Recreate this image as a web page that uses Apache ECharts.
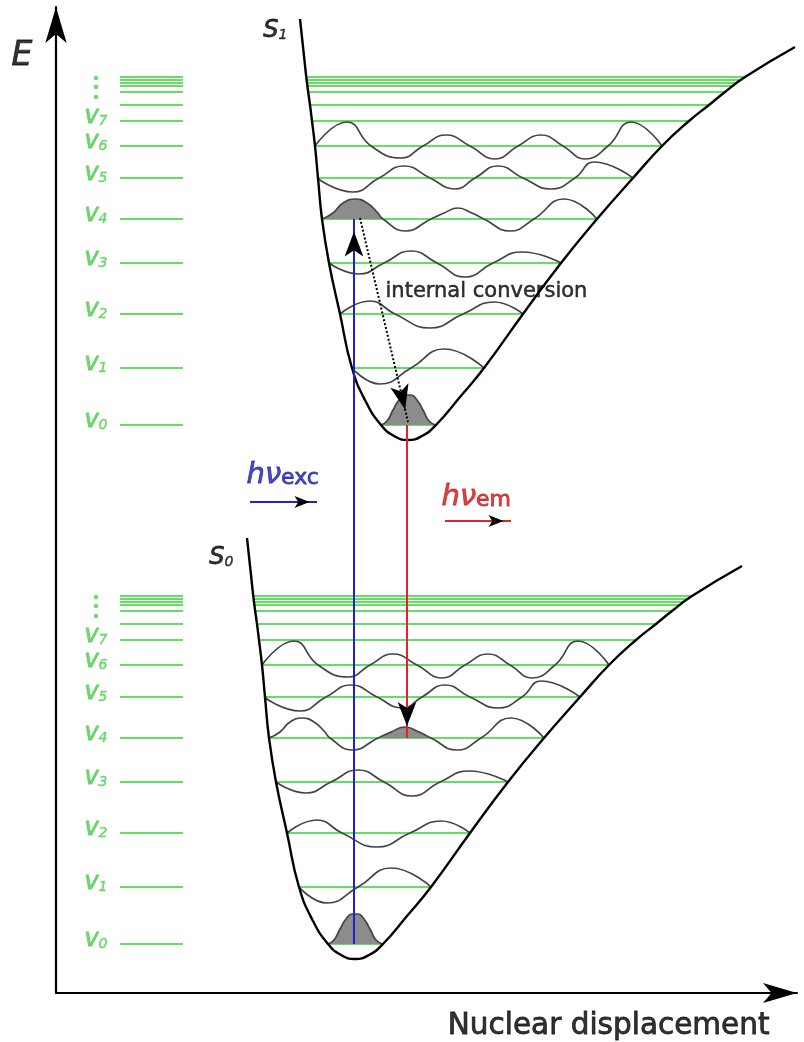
<!DOCTYPE html>
<html>
<head>
<meta charset="utf-8">
<title>Franck–Condon diagram</title>
<script src="https://cdn.jsdelivr.net/npm/echarts@6.0.0/dist/echarts.min.js"></script>
<style>
  html, body { margin: 0; padding: 0; background: #ffffff; }
  #chart { width: 804px; height: 1042px; }
</style>
</head>
<body>
<div id="chart"></div>
<script>
// ---------- Ground-state well S0: q = nuclear displacement, E = energy ----------
// vibrational levels v0..v7, then the levels converging towards dissociation
const levelEnergy = [49, 106, 160, 211, 255, 296, 328, 353, 369, 382, 388, 391, 394, 397];
// classical turning points of each level (where the level meets the curve)
const levelLeft  = [272, 243, 231, 220, 213, 209, 206, 203, 201, 199, 198.5, 198, 198, 197.5];
const levelRight = [327, 375, 414, 452, 488, 524, 553, 580, 600, 616, 624, 628, 632, 636];
const labelledLevels = ['0', '1', '2', '3', '4', '5', '6', '7'];
const ladderDotsEnergy = [396, 387, 377];
const ladderRange = [64, 127];

// potential energy curve
const wellCurve = [
  [191, 455], [195, 418], [198, 391], [201, 369], [203, 353], [206, 328], [209, 296],
  [213, 255], [220, 211], [231, 160], [243, 106], [257, 72], [272, 49], [285, 38],
  [299, 34], [313, 38], [327, 49], [351, 77], [375, 106], [414, 160], [452, 211],
  [488, 255], [524, 296], [553, 328], [580, 353], [600, 369], [616, 382], [636, 397],
  [686, 427]
];

// vibrational wavefunctions, drawn on top of their own level
const psi0 = [[272, 49], [278, 53], [284, 64], [290, 74], [296, 79], [302, 79], [308, 74], [314, 64], [320, 53], [327, 49]];
const psi1 = [[243, 106], [271, 90], [302, 106], [335, 125], [375, 106]];
const psi2 = [[231, 160], [261, 173], [286, 160], [321, 146], [354, 160], [385, 172], [414, 160]];
const psi3 = [[220, 211], [250, 200], [275, 211], [302, 223], [328, 211], [356, 197], [384, 211], [413, 222], [452, 211]];
const psi4 = [[213, 255], [224, 261], [234, 271], [246, 275], [258, 271], [268, 262], [274, 255], [296, 243],
              [322, 255], [335, 261], [349, 266], [363, 261], [375, 255], [401, 243], [425, 255], [455, 275], [488, 255]];
const psi5 = [[208, 296], [244, 282], [270, 296], [295, 308], [321, 296], [346, 285], [366, 296], [389, 308],
              [414, 296], [442, 285], [466, 296], [485, 312], [524, 296]];
const psi6 = [[206, 328], [238, 352], [262, 328], [292, 316], [314, 328], [337, 339], [361, 328], [386, 315],
              [409, 328], [432, 339], [454, 328], [476, 315], [499, 328], [522, 352], [553, 328]];

// excited state S1: the same well displaced along q and raised in energy
const s1Shift = [53, 519];
// vertical transitions start at the S0 equilibrium displacement
const excitationQ = 298;

// ---------- styling ----------
const FONT = 'DejaVu Sans';
const LEVEL_GREEN = '#66de66';
const LABEL_GREEN = '#4fcd4f';
const WAVE = '#444444';
const LOBE = '#8c8c8c';
const BLUE = '#1f1fd8';
const RED = '#e02424';
const EXC_TEXT = '#1a1ab0';
const EM_TEXT = '#c81818';

// slightly heavier glyphs via a thin outline in the text colour
const ink = (color, size, extra) => Object.assign({
  fontSize: size, lineHeight: size, color: color, fontFamily: FONT,
  textBorderColor: color, textBorderWidth: 0.8
}, extra || {});

const wavefunctions = [psi0, psi1, psi2, psi3, psi4, psi5, psi6];
const states = [
  { name: '0', shift: [0, 0], filled: [[0, psi0], [4, psi4.slice(8, 13)]], labelAt: [178, 423] },
  { name: '1', shift: s1Shift, filled: [[0, psi0], [4, psi4.slice(0, 7)]], labelAt: [232, 950] }
];

const move = (pts, shift) => pts.map(p => [p[0] + shift[0], p[1] + shift[1]]);

const series = [];
const texts = [];
const dots = [];

states.forEach(st => {
  const de = st.shift[1];
  // levels inside the well and the ladder beside the energy axis
  const segs = levelEnergy.map((e, i) => ({
    coords: move([[levelLeft[i], e], [levelRight[i], e]], st.shift)
  })).concat(levelEnergy.map(e => ({ coords: [[ladderRange[0], e + de], [ladderRange[1], e + de]] })));
  series.push({
    type: 'lines', coordinateSystem: 'cartesian2d', z: 1, silent: true, clip: false,
    lineStyle: { color: LEVEL_GREEN, width: 2, opacity: 1 },
    data: segs
  });
  // shaded lobes
  st.filled.forEach(([n, pts]) => {
    series.push({
      type: 'line', z: 2, smooth: 0.5, symbol: 'none', silent: true, clip: false,
      data: move(pts, st.shift),
      lineStyle: { width: 0 },
      areaStyle: { color: LOBE, opacity: 1, origin: levelEnergy[n] + de }
    });
  });
  // wavefunctions
  wavefunctions.forEach(psi => {
    series.push({
      type: 'line', z: 3, smooth: 0.5, symbol: 'none', silent: true, clip: false,
      data: move(psi, st.shift),
      lineStyle: { color: WAVE, width: 1.7 }
    });
  });
  // potential energy curve
  series.push({
    type: 'line', z: 4, smooth: 0.5, symbol: 'none', silent: true, clip: false,
    data: move(wellCurve, st.shift),
    lineStyle: { color: '#000', width: 2.4 }
  });
  // level names v0..v7
  labelledLevels.forEach((n, i) => {
    texts.push({
      value: [52, levelEnergy[i] + de - 8],
      label: {
        align: 'right', verticalAlign: 'bottom',
        formatter: '{v|v}{n|' + n + '}',
        rich: {
          v: ink(LABEL_GREEN, 24, { fontStyle: 'italic', verticalAlign: 'bottom' }),
          n: ink(LABEL_GREEN, 14, { fontStyle: 'italic', lineHeight: 6, verticalAlign: 'bottom', textBorderWidth: 0.4 })
        }
      }
    });
  });
  ladderDotsEnergy.forEach(e => dots.push([40, e + de]));
  // state name
  texts.push({
    value: st.labelAt,
    label: {
      align: 'right', verticalAlign: 'bottom',
      formatter: '{S|S}{n|' + st.name + '}',
      rich: {
        S: ink('#000', 24, { fontStyle: 'italic', verticalAlign: 'bottom' }),
        n: ink('#000', 14, { fontStyle: 'italic', lineHeight: 10, verticalAlign: 'bottom', textBorderWidth: 0.4 })
      }
    }
  });
});

// ---------- transitions ----------
const exFrom = [excitationQ, levelEnergy[0]];
const exTo = [excitationQ, levelEnergy[4] + s1Shift[1]];
const emFrom = [excitationQ + s1Shift[0], levelEnergy[0] + s1Shift[1]];
const emTo = [excitationQ + s1Shift[0], levelEnergy[4]];
const icFrom = [excitationQ + 6, levelEnergy[4] + s1Shift[1] + 1];
const icTo = [excitationQ + s1Shift[0] + 1, levelEnergy[0] + s1Shift[1] + 3];
// photon arrows next to h\u03bd
const excPhoton = [[194, 491], [261, 491]];
const emPhoton = [[389, 472], [455, 472]];

series.push({
  type: 'lines', coordinateSystem: 'cartesian2d', z: 5, silent: true, clip: false,
  data: [
    { coords: [exFrom, exTo], lineStyle: { color: BLUE, width: 2, opacity: 1 } },
    { coords: [emFrom, emTo], lineStyle: { color: RED, width: 2, opacity: 1 } },
    { coords: excPhoton, lineStyle: { color: BLUE, width: 2.2, opacity: 1 } },
    { coords: emPhoton, lineStyle: { color: RED, width: 2.2, opacity: 1 } },
    { coords: [icFrom, icTo], lineStyle: { color: '#000', width: 2, type: 'dotted', opacity: 1 } }
  ]
});

// black arrow heads, tip placed on the end point (both axes use the same px scale)
function head(from, tip, len, wid) {
  const sx = tip[0] - from[0];
  const sy = -(tip[1] - from[1]);
  const L = Math.hypot(sx, sy);
  return {
    value: tip,
    symbolSize: [wid, len],
    symbolRotate: Math.atan2(-sx, -sy) * 180 / Math.PI,
    symbolOffset: [-sx / L * len / 2, -sy / L * len / 2]
  };
}
series.push({
  type: 'scatter', z: 6, silent: true, clip: false, symbol: 'arrow',
  itemStyle: { color: '#000', opacity: 1 },
  data: [
    head(exFrom, exTo, 25, 14),
    head(emFrom, emTo, 24, 14),
    head(icFrom, icTo, 25, 14),
    head(excPhoton[0], excPhoton[1], 15, 9),
    head(emPhoton[0], emPhoton[1], 15, 9)
  ]
});

// ladder dots
series.push({
  type: 'scatter', z: 6, silent: true, clip: false, symbol: 'circle', symbolSize: 4.5,
  itemStyle: { color: LABEL_GREEN }, data: dots
});

// ---------- text ----------
texts.push(
  {
    value: [330, 690],
    label: { align: 'left', verticalAlign: 'bottom', formatter: '{t|internal conversion}',
      rich: { t: ink('#000', 21, { textBorderWidth: 0.5 }) } }
  },
  {
    value: [191, 503],
    label: { align: 'left', verticalAlign: 'bottom', formatter: '{h|h\u03bd}{s|exc}',
      rich: {
        h: ink(EXC_TEXT, 29, { fontStyle: 'italic', verticalAlign: 'bottom' }),
        s: ink(EXC_TEXT, 22, { lineHeight: 12, verticalAlign: 'bottom' })
      } }
  },
  {
    value: [386, 481],
    label: { align: 'left', verticalAlign: 'bottom', formatter: '{h|h\u03bd}{s|em}',
      rich: {
        h: ink(EM_TEXT, 29, { fontStyle: 'italic', verticalAlign: 'bottom' }),
        s: ink(EM_TEXT, 22, { lineHeight: 12, verticalAlign: 'bottom' })
      } }
  },
  {
    value: [-44, 920],
    label: { align: 'left', verticalAlign: 'bottom', formatter: '{t|E}',
      rich: { t: ink('#000', 33, { fontStyle: 'italic' }) } }
  },
  {
    value: [714, -49],
    label: { align: 'right', verticalAlign: 'bottom', formatter: '{t|Nuclear displacement}',
      rich: { t: ink('#000', 29.5) } }
  }
);

series.push({
  type: 'scatter', z: 7, silent: true, clip: false, symbolSize: 1,
  itemStyle: { color: 'rgba(0,0,0,0)' },
  label: { show: true, position: [0, 0] },
  data: texts
});

// Axis lines end at the arrow tips, just inside the canvas edge.
const chart = echarts.init(document.getElementById('chart'), null, { renderer: 'canvas' });
chart.setOption({
  animation: false,
  backgroundColor: '#ffffff',
  textStyle: { fontFamily: FONT },
  grid: { left: 56, right: 7, top: 7, bottom: 49, outerBoundsMode: 'none', containLabel: false },
  xAxis: {
    type: 'value', min: 0, max: 741,
    axisLine: { show: true, lineStyle: { color: '#000', width: 2.2 }, symbol: ['none', 'arrow'], symbolSize: [15, 34] },
    axisTick: { show: false }, axisLabel: { show: false }, splitLine: { show: false }
  },
  yAxis: {
    type: 'value', min: 0, max: 986,
    axisLine: { show: true, lineStyle: { color: '#000', width: 2.2 }, symbol: ['none', 'arrow'], symbolSize: [16, 36] },
    axisTick: { show: false }, axisLabel: { show: false }, splitLine: { show: false }
  },
  series: series
});
</script>
</body>
</html>
